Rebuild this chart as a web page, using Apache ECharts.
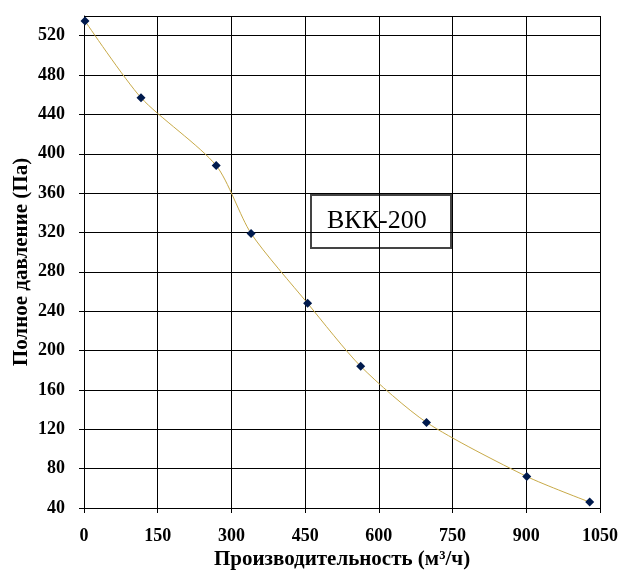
<!DOCTYPE html>
<html>
<head>
<meta charset="utf-8">
<script src="https://cdn.jsdelivr.net/npm/echarts@6/dist/echarts.min.js"></script>
<style>
  html, body { margin: 0; padding: 0; background: #fff; }
  #main { width: 632px; height: 576px; }
</style>
</head>
<body>
<div id="main"></div>
<script>
// производительность, м3/ч
var flow = [2, 116, 269, 340, 455, 563, 697, 901, 1029];
// полное давление, Па
var pressure = [535, 457, 388, 319, 248, 184, 127, 72, 46];

var points = flow.map(function (x, i) { return [x, pressure[i]]; });

var serif = '"Liberation Serif", "DejaVu Serif", serif';

var option = {
    backgroundColor: '#fff',
    animation: false,
    grid: { left: 84, right: 32, top: 16, bottom: 68, outerBoundsMode: 'none' },
    xAxis: {
        type: 'value',
        min: 0,
        max: 1050,
        interval: 150,
        name: 'Производительность (м³/ч)',
        nameLocation: 'middle',
        nameGap: 41,
        nameMoveOverlap: false,
        nameTextStyle: { fontFamily: serif, fontWeight: 'bold', fontSize: 21, color: '#000' },
        axisLine: { show: true, lineStyle: { color: '#000', width: 1 } },
        axisTick: { show: true, inside: false, length: 5, lineStyle: { color: '#000' } },
        axisLabel: {
            margin: 19,
            formatter: function (v) { return String(v); },
            fontFamily: serif, fontWeight: 'bold', fontSize: 18, color: '#000'
        },
        splitLine: { show: true, lineStyle: { color: '#000', width: 1 } }
    },
    yAxis: {
        type: 'value',
        min: 40,
        max: 540,
        interval: 40,
        name: 'Полное давление (Па)',
        nameLocation: 'middle',
        nameGap: 52,
        nameMoveOverlap: false,
        nameTextStyle: { fontFamily: serif, fontWeight: 'bold', fontSize: 21, color: '#000' },
        axisLine: { show: true, lineStyle: { color: '#000', width: 1 } },
        axisTick: { show: true, inside: false, length: 5, lineStyle: { color: '#000' } },
        axisLabel: {
            margin: 19,
            showMaxLabel: false,
            fontFamily: serif, fontWeight: 'bold', fontSize: 18, color: '#000'
        },
        splitLine: { show: true, lineStyle: { color: '#000', width: 1 } }
    },
    series: [{
        type: 'line',
        data: points,
        smooth: 0.25,
        symbol: 'diamond',
        symbolSize: 9,
        itemStyle: { color: '#001a4d' },
        lineStyle: { color: '#c8aa48', width: 1 }
    }],
    graphic: [{
        type: 'group',
        left: 310,
        top: 194,
        children: [{
            type: 'rect',
            shape: { x: 0, y: 0, width: 140, height: 53 },
            style: { fill: '#fff', stroke: '#444', lineWidth: 2 }
        }, {
            type: 'text',
            x: 16,
            y: 13,
            style: { text: 'ВКК-200', font: '26px ' + serif, fill: '#000' }
        }]
    }]
};

var myChart = echarts.init(document.getElementById('main'));
myChart.setOption(option);
</script>
</body>
</html>
